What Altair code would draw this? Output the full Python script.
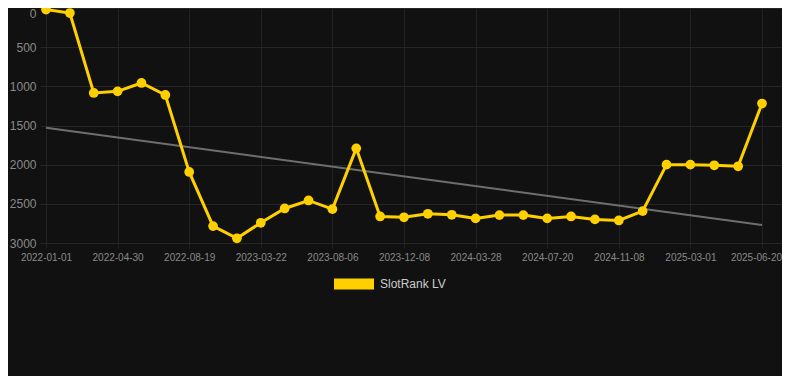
import altair as alt
import pandas as pd

# Data
ranks = [20, 64, 1085, 1064, 957, 1110, 2093, 2784, 2940, 2742, 2559, 2457,
         2568, 1792, 2661, 2672, 2627, 2640, 2686, 2644, 2644, 2686, 2661,
         2699, 2712, 2593, 2000, 2000, 2008, 2021, 1220]
tick_labels = ["2022-01-01", "2022-04-30", "2022-08-19", "2023-03-22",
               "2023-08-06", "2023-12-08", "2024-03-28", "2024-07-20",
               "2024-11-08", "2025-03-01", "2025-06-20"]
trend_idx = [0, 30]
trend_vals = [1530, 2771]
series_name = "SlotRank LV"

df = pd.DataFrame({"idx": list(range(len(ranks))), "rank": ranks,
                   "series": [series_name] * len(ranks)})
trend = pd.DataFrame({"idx": trend_idx, "rank": trend_vals})

label_arr = "[" + ",".join("'%s'" % t for t in tick_labels) + "]"

x_scale = alt.Scale(domain=[-0.2514, 30.838], nice=False, zero=False)
y_scale = alt.Scale(domain=[0, 3000], reverse=True, nice=False, zero=False)

x_axis = alt.Axis(values=list(range(0, 31, 3)), labelExpr=label_arr + "[round(datum.value/3)]",
                  title=None, grid=True, gridColor="#222222", domain=False,
                  ticks=True, tickColor="#222222", tickSize=5, labelPadding=4,
                  labelOffset={"condition": {"test": "datum.value == 30", "value": -6},
                               "value": 0},
                  labelFontSize=10, labelColor="#8a8a8a", labelFont="Liberation Sans")
y_axis = alt.Axis(values=list(range(0, 3001, 500)), format="d", title=None, grid=True,
                  gridColor="#262626", domain=False, ticks=False, labelPadding=4,
                  labelBaseline={"condition": {"test": "datum.value == 0", "value": "top"},
                                 "value": "middle"},
                  labelFontSize=12, labelColor="#8a8a8a", labelFont="Liberation Sans")

color = alt.Color("series:N",
                  scale=alt.Scale(domain=[series_name], range=["#FFD000"]),
                  legend=alt.Legend(title=None, orient="none", legendX=294, legendY=256,
                                    symbolType="M-1,-0.275L1,-0.275L1,0.275L-1,0.275Z",
                                    symbolSize=1600, symbolStrokeWidth=0,
                                    labelFontSize=12, labelColor="#cccccc",
                                    labelFont="Liberation Sans", labelOffset=6,
                                    padding=0))

trend_line = alt.Chart(trend).mark_line(color="#6e6e6e", strokeWidth=2).encode(
    x=alt.X("idx:Q", scale=x_scale, axis=x_axis),
    y=alt.Y("rank:Q", scale=y_scale, axis=y_axis),
)

line = alt.Chart(df).mark_line(strokeWidth=3).encode(
    x=alt.X("idx:Q", scale=x_scale, axis=x_axis),
    y=alt.Y("rank:Q", scale=y_scale, axis=y_axis),
    color=color,
)

points = alt.Chart(df).mark_point(filled=True, size=95, opacity=1).encode(
    x=alt.X("idx:Q", scale=x_scale, axis=x_axis),
    y=alt.Y("rank:Q", scale=y_scale, axis=y_axis),
    color=alt.Color("series:N", scale=alt.Scale(domain=[series_name], range=["#FFD000"]),
                    legend=None),
)

chart = alt.layer(trend_line, line, points).properties(
    width=742, height=235,
    background="#111111",
    padding={"left": 32, "top": 0, "right": 0, "bottom": 133},
    autosize=alt.AutoSizeParams(type="none"),
).configure_view(stroke=None)

chart.save("out.html", embed_options={"renderer": "svg", "actions": False})
